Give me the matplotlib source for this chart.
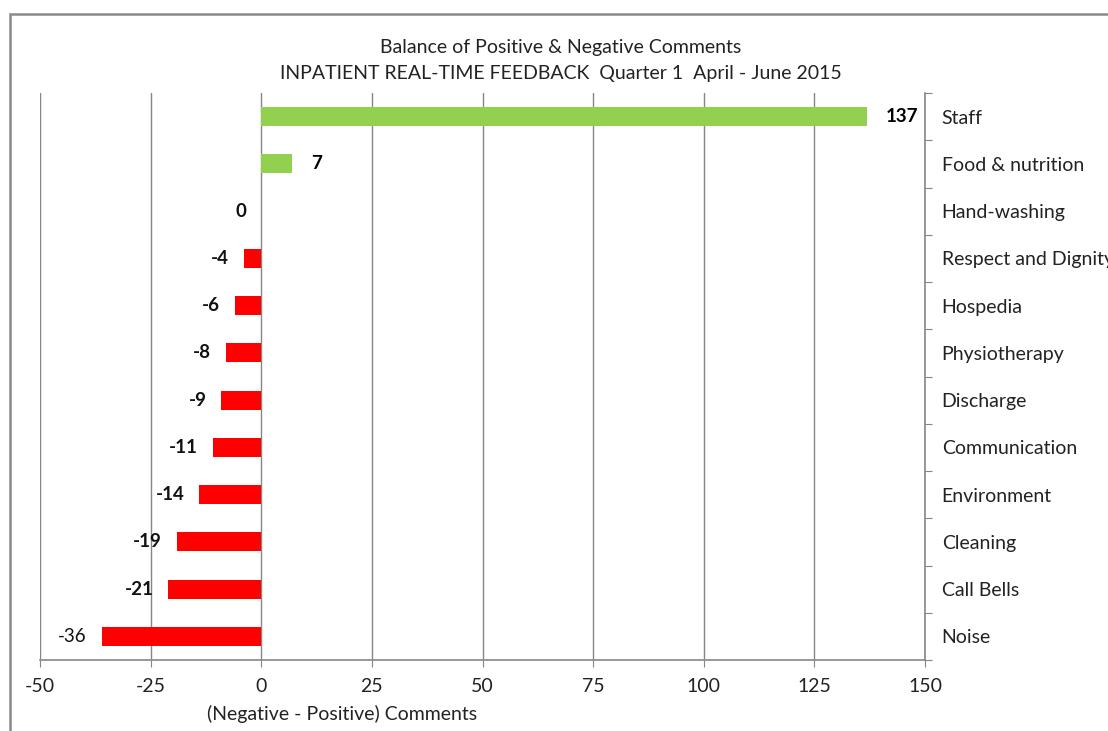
import matplotlib
matplotlib.use("Agg")
import matplotlib.pyplot as plt
from matplotlib.patches import Rectangle

plt.rcParams["font.family"] = ["Lato", "DejaVu Sans"]

# categorias de cima para baixo e saldo (negativos - positivos)
CATEGORIAS = ["Staff", "Food & nutrition", "Hand-washing", "Respect and Dignity",
              "Hospedia", "Physiotherapy", "Discharge", "Communication",
              "Environment", "Cleaning", "Call Bells", "Noise"]
VALORES = [137, 7, 0, -4, -6, -8, -9, -11, -14, -19, -21, -36]
XTICKS = [-50, -25, 0, 25, 50, 75, 100, 125, 150]

VERDE = "#92D050"
VERMELHO = "#FF0000"
CINZA = "#868686"
TEXTO = "#222222"
FS = 14

fig = plt.figure(figsize=(11.08, 7.31), dpi=100)
ax = fig.add_axes([40 / 1108, 1 - 660 / 731, 885 / 1108, 567 / 731])

n = len(CATEGORIAS)
ypos = list(range(n))
cores = [VERDE if v > 0 else VERMELHO for v in VALORES]
ax.barh(ypos, VALORES, height=0.4, color=cores, zorder=3)

for y, v in zip(ypos, VALORES):
    peso = "normal" if v == -36 else "bold"
    if v > 0:
        ax.text(v + 4.2, y, f"{v}", ha="left", va="center", fontsize=FS - 0.5,
                fontweight=peso, color="black")
    else:
        ax.text(v - 3.4, y, f"{v}", ha="right", va="center", fontsize=FS - 0.5,
                fontweight=peso, color="#111111")

ax.set_xlim(-50, 150)
ax.set_ylim(n - 0.5, -0.5)
ax.set_xticks(XTICKS)
ax.set_xticklabels([str(t) for t in XTICKS], fontsize=FS, color=TEXTO)
ax.grid(axis="x", color=CINZA, linewidth=1.0, zorder=0)

# eixo de categorias na direita, com marcas entre as categorias
# (o ultimo rotulo passa da borda da figura, como no relatorio)
ax.yaxis.tick_right()
ax.set_yticks([i - 0.5 for i in range(n + 1)])
ax.set_yticklabels([])
ax.set_yticks(ypos, minor=True)
ax.set_yticklabels(CATEGORIAS, minor=True, fontsize=FS, color=TEXTO)
ax.tick_params(axis="y", which="major", direction="out", length=5, color=CINZA, right=True, left=False)
ax.tick_params(axis="y", which="minor", length=0, pad=12, right=True, left=False)
ax.tick_params(axis="x", direction="out", length=5, color=CINZA, pad=8)

for lado in ["top", "left"]:
    ax.spines[lado].set_visible(False)
for lado in ["right", "bottom"]:
    ax.spines[lado].set_color(CINZA)
    ax.spines[lado].set_linewidth(1.2)

fig.text(561 / 1108, 1 - 48 / 731, "Balance of Positive & Negative Comments",
         ha="center", va="center", fontsize=FS, color=TEXTO)
fig.text(561 / 1108, 1 - 74 / 731, "INPATIENT REAL-TIME FEEDBACK  Quarter 1  April - June 2015",
         ha="center", va="center", fontsize=FS, color=TEXTO)
fig.text(342 / 1108, 1 - 714 / 731, "(Negative - Positive) Comments",
         ha="center", va="center", fontsize=FS, color=TEXTO)

# moldura da area do grafico
fig.patches.append(Rectangle((9.5 / 1108, -0.1), 1.2, 1.1 - 14 / 731,
                             transform=fig.transFigure, fill=False,
                             edgecolor="#8a8a8a", linewidth=1.8))

fig.savefig("out.png", dpi=100)
